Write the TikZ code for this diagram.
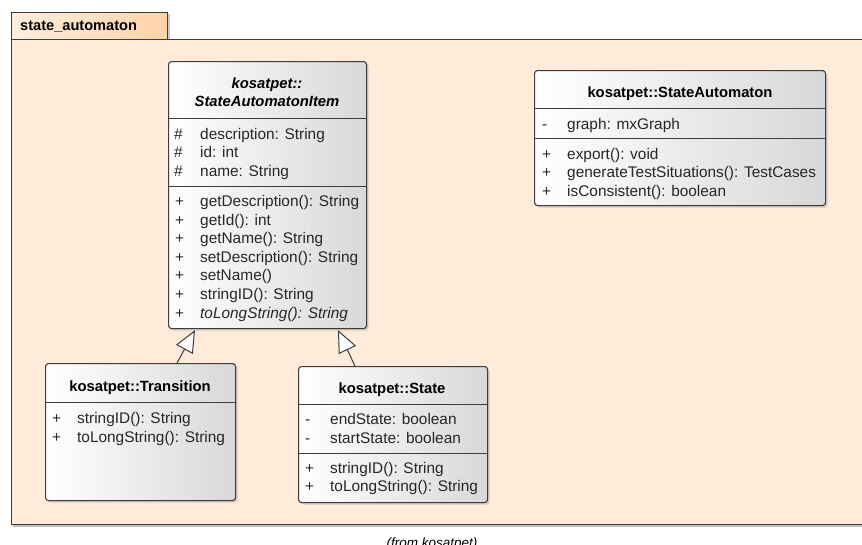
\documentclass[tikz,border=0pt]{standalone}
\usepackage{fontspec}
\setmainfont{Liberation Sans}
\usetikzlibrary{shadows,arrows.meta,calc}
\definecolor{pkgfill}{HTML}{FEEBD9}
\definecolor{tabL}{HTML}{FFEEDD}
\definecolor{tabR}{HTML}{FDD3A8}
\definecolor{edge}{HTML}{3C3C3C}
\definecolor{boxR}{HTML}{D8D8D8}
\begin{document}
\begin{tikzpicture}[x=1pt,y=-1pt,
  umlbox/.style={draw=edge, line width=1.1pt, rounded corners=3pt, left color=white, right color=boxR,
    drop shadow={shadow xshift=2pt, shadow yshift=-2pt, opacity=0.3}, inner sep=0pt, anchor=north west},
  sepline/.style={draw=edge, line width=1pt},
  txt/.style={anchor=base west, inner sep=0pt, font=\fontsize{15.4}{18}\selectfont, text=black!85},
  ttl/.style={anchor=base, inner sep=0pt, font=\fontsize{14.8}{18}\selectfont\bfseries},
  gen/.style={draw=edge, line width=1pt, -{Triangle[open, length=22pt, width=19pt, fill=white]}}
]
\useasboundingbox (0,0) rectangle (862,544);
\fill[white] (0,0) rectangle (862,544);
% package
\fill[black!25] (13,41) rectangle (880,527);
\fill[black!20] (167,14) rectangle (170,39);
\node[draw=edge, line width=1.2pt, fill=pkgfill, minimum width=869pt, minimum height=485pt, inner sep=0pt, anchor=north west] (pkg) at (11,39) {};
\node[draw=edge, line width=1.2pt, left color=tabL, right color=tabR, minimum width=156pt, minimum height=27pt, inner sep=0pt, anchor=north west] (tab) at (11,12) {};
\node[anchor=base west, inner sep=0pt, font=\fontsize{14.6}{16}\selectfont\bfseries] (tabtxt) at (20,30) {state\_automaton};
\node[anchor=base, inner sep=0pt, font=\fontsize{13.5}{16}\selectfont\itshape] (from) at (432,547) {(from kosatpet)};

% StateAutomatonItem
\node[umlbox, minimum width=198pt, minimum height=267pt] (sai) at (168,61) {};
\draw[sepline] (168,118) -- (366,118);
\draw[sepline] (168,186) -- (366,186);
\node[ttl, font=\fontsize{14.8}{18}\selectfont\bfseries\itshape] (sait1) at (267,88) {kosatpet::};
\node[ttl, font=\fontsize{14.8}{18}\selectfont\bfseries\itshape] (sait2) at (267,106) {StateAutomatonItem};
\node[txt] (a1m) at (174,139) {\#};  \node[txt] (a1) at (200,139) {description: String};
\node[txt] (a2m) at (174,157) {\#};  \node[txt] (a2) at (200,157) {id: int};
\node[txt] (a3m) at (174,176) {\#};  \node[txt] (a3) at (200,176) {name: String};
\node[txt] (o1m) at (175,206) {+};  \node[txt] (o1) at (200,206) {getDescription(): String};
\node[txt] (o2m) at (175,225) {+};  \node[txt] (o2) at (200,225) {getId(): int};
\node[txt] (o3m) at (175,243) {+};  \node[txt] (o3) at (200,243) {getName(): String};
\node[txt] (o4m) at (175,262) {+};  \node[txt] (o4) at (200,262) {setDescription(): String};
\node[txt] (o5m) at (175,280) {+};  \node[txt] (o5) at (200,280) {setName()};
\node[txt] (o6m) at (175,299) {+};  \node[txt] (o6) at (200,299) {stringID(): String};
\node[txt] (o7m) at (175,318) {+};  \node[txt, font=\fontsize{15.4}{18}\selectfont\itshape] (o7) at (200,318) {toLongString(): String};

% StateAutomaton
\node[umlbox, minimum width=291pt, minimum height=135pt] (sa) at (534,70) {};
\draw[sepline] (534,108) -- (825,108);
\draw[sepline] (534,138) -- (825,138);
\node[ttl] (sat) at (680,97) {kosatpet::StateAutomaton};
\node[txt] (b1m) at (542,129) {-};  \node[txt] (b1) at (567,129) {graph: mxGraph};
\node[txt] (c1m) at (542,159) {+};  \node[txt] (c1) at (567,159) {export(): void};
\node[txt] (c2m) at (542,177) {+};  \node[txt] (c2) at (567,177) {generateTestSituations(): TestCases};
\node[txt] (c3m) at (542,196) {+};  \node[txt] (c3) at (567,196) {isConsistent(): boolean};

% Transition
\node[umlbox, minimum width=190pt, minimum height=137pt] (tr) at (45,363) {};
\draw[sepline] (45,402) -- (235,402);
\node[ttl] (trt) at (140,391) {kosatpet::Transition};
\node[txt] (d1m) at (52,423) {+};  \node[txt] (d1) at (77,423) {stringID(): String};
\node[txt] (d2m) at (52,442) {+};  \node[txt] (d2) at (77,442) {toLongString(): String};

% State
\node[umlbox, minimum width=189pt, minimum height=136pt] (st) at (298,366) {};
\draw[sepline] (298,404) -- (487,404);
\draw[sepline] (298,453) -- (487,453);
\node[ttl] (stt) at (392,393) {kosatpet::State};
\node[txt] (e1m) at (305,424) {-};  \node[txt] (e1) at (330,424) {endState: boolean};
\node[txt] (e2m) at (305,443) {-};  \node[txt] (e2) at (330,443) {startState: boolean};
\node[txt] (f1m) at (305,473) {+};  \node[txt] (f1) at (330,473) {stringID(): String};
\node[txt] (f2m) at (305,491) {+};  \node[txt] (f2) at (330,491) {toLongString(): String};

% generalizations
\draw[gen] ($(tr.north west)+(132,0)$) -- ($(sai.south west)+(27,1)$);
\draw[gen] ($(st.north west)+(57,0)$) -- ($(sai.south west)+(170,1)$);
\end{tikzpicture}
\end{document}
